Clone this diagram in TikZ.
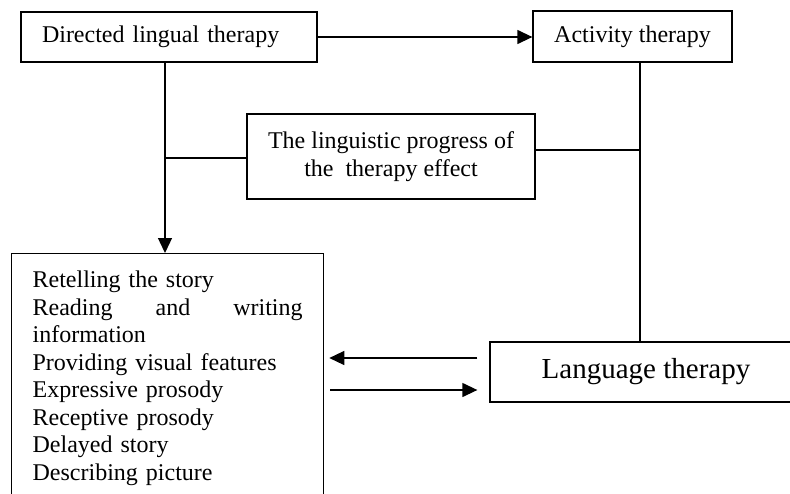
\documentclass[tikz,border=0pt]{standalone}
\usepackage{fontspec}
\setmainfont{Liberation Serif}
\usetikzlibrary{arrows.meta}
\begin{document}
\begin{tikzpicture}[x=1pt,y=-1pt,
  line width=1.3pt,
  box/.style={draw, line width=1.3pt, inner sep=0pt, font=\fontsize{24}{27.5}\selectfont},
  arr/.style={-{Triangle[length=15pt,width=14pt]}},
  ln/.style={line width=1.3pt}]
\useasboundingbox (0,0) rectangle (790,493);
\fill[white] (0,0) rectangle (790,493);
\clip (0,0) rectangle (790,493);
% boxes
\node[box, minimum width=296pt, minimum height=50pt, text width=254pt, align=left] (dir) at (169,37) {Directed lingual therapy};
\node[box, minimum width=199pt, minimum height=51pt] (act) at (632.5,36.5) {Activity therapy};
\node[box, minimum width=288pt, minimum height=85pt, align=center] (prog) at (391,156.5) {The linguistic progress of\\the\ \ therapy effect};
\node[box, minimum width=312pt, minimum height=60pt, font=\fontsize{29}{33}\selectfont] (lang) at (646,372) {Language therapy};
\node[box, minimum width=312pt, minimum height=260pt, anchor=north west] (list) at (11,253) {};
\node[anchor=north west, inner sep=0pt, text width=270pt, align=left, font=\fontsize{24}{27.5}\selectfont] (items) at (32,270.5) {Retelling the story\\
\leavevmode\hbox to 270pt{Reading\hfill and\hfill writing}\\
information\\
Providing visual features\\
Expressive prosody\\
Receptive prosody\\
Delayed story\\
Describing picture};
% junctions
\coordinate (jl) at (165,158);
\coordinate (jr) at (640,150);
\coordinate (a1) at (0,358);
\coordinate (a2) at (0,390);
% connectors
\draw[ln, arr] (dir.east) -- (dir.east -| act.west);
\draw[ln, arr] (jl |- dir.south) -- (jl |- list.north);
\draw[ln] (jl) -- (jl -| prog.west);
\draw[ln] (jr |- act.south) -- (jr |- lang.north);
\draw[ln] (prog.east |- jr) -- (jr);
\draw[ln, arr, shorten <=12pt, shorten >=5pt] (lang.west |- a1) -- (list.east |- a1);
\draw[ln, arr, shorten <=6pt, shorten >=12pt] (list.east |- a2) -- (lang.west |- a2);
\end{tikzpicture}
\end{document}
